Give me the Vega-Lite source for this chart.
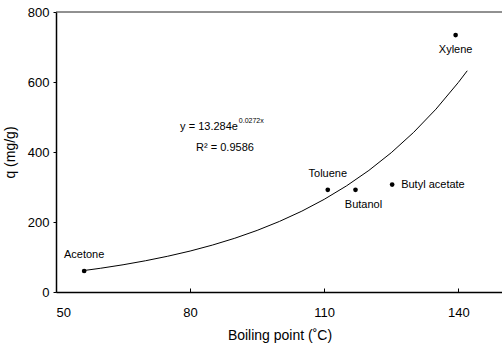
{
  "$schema": "https://vega.github.io/schema/vega-lite/v6.json",
  "width": 447,
  "height": 280,
  "autosize": {"type": "none"},
  "padding": {"left": 56, "top": 12, "right": 0, "bottom": 53},
  "background": "white",
  "config": {
    "view": {"stroke": null},
    "font": "Liberation Sans",
    "axis": {"labelFont": "Liberation Sans", "titleFont": "Liberation Sans", "domainColor": "#000", "tickColor": "#000", "labelColor": "#000", "titleColor": "#000", "grid": false}
  },
  "datasets": {
    "pts": [
      {"name": "Acetone", "bp": 56.3, "q": 60, "pos": "above"},
      {"name": "Toluene", "bp": 110.8, "q": 292, "pos": "above"},
      {"name": "Butanol", "bp": 117.0, "q": 292, "pos": "belowright"},
      {"name": "Butyl acetate", "bp": 125.2, "q": 307, "pos": "right"},
      {"name": "Xylene", "bp": 139.4, "q": 734, "pos": "below"}
    ],
    "fit": [
      {"bp": 56, "q": 60.9},
      {"bp": 60, "q": 67.9},
      {"bp": 65, "q": 77.8},
      {"bp": 70, "q": 89.2},
      {"bp": 75, "q": 102.2},
      {"bp": 80, "q": 117.0},
      {"bp": 85, "q": 134.1},
      {"bp": 90, "q": 153.6},
      {"bp": 95, "q": 176.0},
      {"bp": 100, "q": 201.7},
      {"bp": 105, "q": 231.0},
      {"bp": 110, "q": 264.7},
      {"bp": 115, "q": 303.3},
      {"bp": 120, "q": 347.4},
      {"bp": 125, "q": 398.0},
      {"bp": 130, "q": 456.0},
      {"bp": 135, "q": 522.4},
      {"bp": 140, "q": 598.6},
      {"bp": 142, "q": 632.1}
    ],
    "eq": [
      {"bp": 90.7, "q": 471, "t": "y = 13.284e", "kind": "main"},
      {"bp": 90.9, "q": 488, "t": "0.0272x", "kind": "sup"},
      {"bp": 87.8, "q": 411, "t": "R² = 0.9586", "kind": "r2"}
    ],
    "top": [{"q": 800}]
  },
  "layer": [
    {
      "data": {"name": "top"},
      "mark": {"type": "rule", "color": "#222", "strokeWidth": 1},
      "encoding": {"y": {"field": "q", "type": "quantitative", "scale": {"domain": [0, 800]}}}
    },
    {
      "data": {"name": "fit"},
      "mark": {"type": "line", "color": "#000", "strokeWidth": 1},
      "encoding": {
        "x": {"field": "bp", "type": "quantitative", "scale": {"domain": [50, 150], "nice": false},
              "axis": {"values": [50, 80, 110, 140], "title": "Boiling point (˚C)", "titleFontSize": 14, "titleFontWeight": "normal", "labelFontSize": 13, "tickSize": -4, "labelPadding": 18, "titlePadding": 9, "domainWidth": 1.5}},
        "y": {"field": "q", "type": "quantitative", "scale": {"domain": [0, 800], "nice": false},
              "axis": {"values": [0, 200, 400, 600, 800], "title": "q (mg/g)", "titleFontSize": 14, "titleFontWeight": "normal", "labelFontSize": 13, "tickSize": 3, "labelPadding": 4, "titlePadding": 10, "domainWidth": 1.5}}
      }
    },
    {
      "data": {"name": "pts"},
      "mark": {"type": "circle", "color": "#000", "opacity": 1, "size": 22},
      "encoding": {
        "x": {"field": "bp", "type": "quantitative"},
        "y": {"field": "q", "type": "quantitative"}
      }
    },
    {
      "data": {"name": "pts"},
      "transform": [{"filter": "datum.pos === 'above'"}],
      "mark": {"type": "text", "fontSize": 11, "dy": -16, "color": "#000"},
      "encoding": {
        "x": {"field": "bp", "type": "quantitative"},
        "y": {"field": "q", "type": "quantitative"},
        "text": {"field": "name"}
      }
    },
    {
      "data": {"name": "pts"},
      "transform": [{"filter": "datum.pos === 'below'"}],
      "mark": {"type": "text", "fontSize": 11, "dy": 15, "color": "#000"},
      "encoding": {
        "x": {"field": "bp", "type": "quantitative"},
        "y": {"field": "q", "type": "quantitative"},
        "text": {"field": "name"}
      }
    },
    {
      "data": {"name": "pts"},
      "transform": [{"filter": "datum.pos === 'belowright'"}],
      "mark": {"type": "text", "fontSize": 11, "dy": 15, "dx": 8, "color": "#000"},
      "encoding": {
        "x": {"field": "bp", "type": "quantitative"},
        "y": {"field": "q", "type": "quantitative"},
        "text": {"field": "name"}
      }
    },
    {
      "data": {"name": "pts"},
      "transform": [{"filter": "datum.pos === 'right'"}],
      "mark": {"type": "text", "fontSize": 11, "dx": 9, "align": "left", "color": "#000"},
      "encoding": {
        "x": {"field": "bp", "type": "quantitative"},
        "y": {"field": "q", "type": "quantitative"},
        "text": {"field": "name"}
      }
    },
    {
      "data": {"name": "eq"},
      "transform": [{"filter": "datum.kind === 'main'"}],
      "mark": {"type": "text", "fontSize": 11, "align": "right", "color": "#000"},
      "encoding": {
        "x": {"field": "bp", "type": "quantitative"},
        "y": {"field": "q", "type": "quantitative"},
        "text": {"field": "t"}
      }
    },
    {
      "data": {"name": "eq"},
      "transform": [{"filter": "datum.kind === 'sup'"}],
      "mark": {"type": "text", "fontSize": 7, "align": "left", "color": "#000"},
      "encoding": {
        "x": {"field": "bp", "type": "quantitative"},
        "y": {"field": "q", "type": "quantitative"},
        "text": {"field": "t"}
      }
    },
    {
      "data": {"name": "eq"},
      "transform": [{"filter": "datum.kind === 'r2'"}],
      "mark": {"type": "text", "fontSize": 11, "align": "center", "color": "#000"},
      "encoding": {
        "x": {"field": "bp", "type": "quantitative"},
        "y": {"field": "q", "type": "quantitative"},
        "text": {"field": "t"}
      }
    }
  ]
}
